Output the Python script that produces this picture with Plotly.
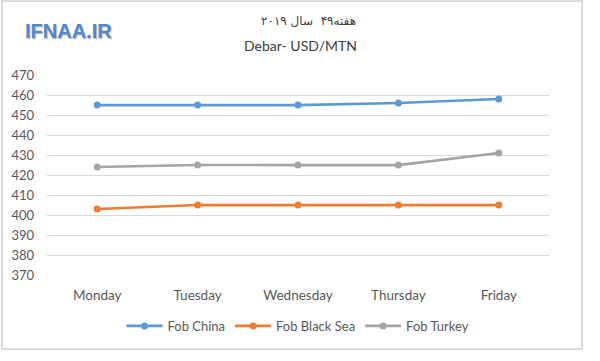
import plotly.graph_objects as go

days = ["Monday", "Tuesday", "Wednesday", "Thursday", "Friday"]
fob_china = [455, 455, 455, 456, 458]
fob_black_sea = [403, 405, 405, 405, 405]
fob_turkey = [424, 425, 425, 425, 431]
y_ticks = [370, 380, 390, 400, 410, 420, 430, 440, 450, 460, 470]

W, H = 600, 361
L, R, T, B = 47, 51, 75, 86
pw, ph = W - L - R, H - T - B

def px_x(p):
    return (p - L) / pw

def px_y(p):
    return (H - B - p) / ph

fig = go.Figure()
series = [("Fob China", fob_china, "#5B9BD5"),
          ("Fob Black Sea", fob_black_sea, "#ED7D31"),
          ("Fob Turkey", fob_turkey, "#A5A5A5")]
for name, vals, col in series:
    fig.add_trace(go.Scatter(x=days, y=vals, name=name, mode="lines+markers",
                             line=dict(color=col, width=2.75),
                             marker=dict(color=col, size=7)))

fig.update_layout(
    width=W, height=H,
    margin=dict(l=L, r=R, t=T, b=B),
    paper_bgcolor="white", plot_bgcolor="white",
    font=dict(family="Lato, Open Sans, sans-serif", size=13, color="#595959"),
    showlegend=True,
    legend=dict(orientation="h", x=0.5, xanchor="center", y=-0.18, yanchor="top",
                font=dict(size=13, color="#595959"), itemwidth=36),
    xaxis=dict(type="category", range=[-0.5, 4.5], showgrid=False, showline=False,
               ticks="", tickfont=dict(size=13.5, color="#595959"), ticklabelstandoff=10),
    yaxis=dict(range=[370, 470], tickvals=y_ticks, showgrid=True, gridcolor="#D9D9D9",
               gridwidth=1, zeroline=False, showline=False, ticks="",
               tickfont=dict(size=13, color="#595959"), ticklabelstandoff=12),
)

fig.add_annotation(text="هفته۴۹  سال ۲۰۱۹", xref="paper", yref="paper",
                   x=px_x(308), y=px_y(21), xanchor="center", yanchor="middle",
                   showarrow=False,
                   font=dict(family="DejaVu Sans", size=12, color="#404040"))
fig.add_annotation(text="Debar- USD/MTN", xref="paper", yref="paper",
                   x=px_x(300), y=px_y(45), xanchor="center", yanchor="middle",
                   showarrow=False,
                   font=dict(size=14, color="#404040"))
fig.add_annotation(text="<b>IFNAA.IR</b>", xref="paper", yref="paper",
                   x=px_x(68), y=px_y(31), xanchor="center", yanchor="middle",
                   showarrow=False,
                   font=dict(family="Liberation Sans", size=20, color="#5189CC",
                             shadow="1px 1px 1px #B0B0B0"))

fig.add_shape(type="rect", xref="paper", yref="paper",
              x0=px_x(2), x1=px_x(582), y0=px_y(349), y1=px_y(1),
              line=dict(color="#D0D0D0", width=1.5), layer="below")

fig.write_html("out.html", config={"displayModeBar": False},
               post_script="document.body.style.margin='0';")
